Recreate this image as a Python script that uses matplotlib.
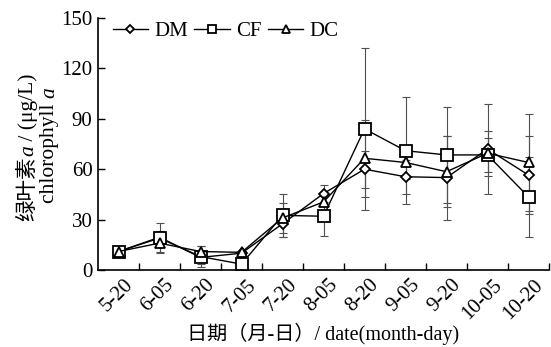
import numpy as np
import matplotlib
matplotlib.use('Agg')
import matplotlib.pyplot as plt
import matplotlib.transforms as mtransforms
from matplotlib.ticker import FixedLocator

SERIF = 'Liberation Serif'
CJK = 'Noto Sans CJK SC'
plt.rcParams['font.family'] = [SERIF, CJK]

# data
dates = ['5-20', '6-05', '6-20', '7-05', '7-20', '8-05', '8-20', '9-05', '9-20', '10-05', '10-20']
dm = [11, 19.5, 7.5, 10, 27.5, 45.5, 60, 55.5, 55, 72, 56.5]
cf = [11, 19, 8, 3.5, 32.5, 32, 84, 71, 68.5, 68.5, 43.5]
dc = [11, 16, 11, 10.5, 31, 40.5, 66.5, 64, 58.5, 69.5, 64]
dm_err = [1, 4, 4, 1.5, 8, 5, 11, 10, 25, 27, 23]
cf_err = [1, 9, 6, 2, 13, 12, 48, 32, 28.5, 10, 24]
dc_err = [1, 5, 3, 1, 9, 5, 23, 10, 21, 13.5, 29]

W, H = 551, 347
fig = plt.figure(figsize=(W / 100, H / 100), dpi=100)
ax = fig.add_axes([98 / W, 1 - 270 / H, 451 / W, 252 / H])

x = np.arange(len(dates))
series = [('DM', dm, dm_err, 'D', 5.5),
          ('CF', cf, cf_err, 's', 8),
          ('DC', dc, dc_err, '^', 7.5)]

for name, vals, err, mk, ms in series:
    ax.errorbar(x, vals, yerr=err, fmt='none', ecolor='#505050',
                elinewidth=0.8, capsize=3, capthick=0.8, zorder=1)
for name, vals, err, mk, ms in series:
    ax.plot(x, vals, color='black', lw=1, marker=mk, ms=ms, mfc='white',
            mec='black', mew=1.3, zorder=3, label=name)

ax.set_xlim(-0.5, len(dates) - 0.5)
ax.set_ylim(0, 150)
ax.set_yticks(np.arange(0, 151, 30))
ax.set_xticks(x)
ax.set_xticklabels(dates, rotation=45, ha='right', va='top', rotation_mode='anchor')
ax.xaxis.set_minor_locator(FixedLocator(np.arange(0.5, len(dates), 1)))
ax.tick_params(axis='x', which='major', length=0, labelsize=15, pad=4)
ax.tick_params(axis='x', which='minor', direction='in', length=5, width=1)
ax.tick_params(axis='y', direction='in', length=5, width=1, labelsize=15, pad=4)
shift = mtransforms.ScaledTranslation(5 / 100, 0, fig.dpi_scale_trans)
for lab in ax.get_xticklabels():
    lab.set_transform(lab.get_transform() + shift)
for s in ['top', 'right']:
    ax.spines[s].set_visible(False)
for s in ['left', 'bottom']:
    ax.spines[s].set_linewidth(1.2)

ax.legend(loc='upper left', ncol=3, frameon=False, fontsize=15,
          handlelength=1.7, handletextpad=0.3, columnspacing=0.3,
          markerscale=0.8, bbox_to_anchor=(0.005, 1.035), borderaxespad=0.2)

fig.text((98 + 451 / 2) / W, 1 - 334 / H, '日期（月-日）/ date(month-day)',
         ha='center', va='center', fontsize=14.5)

# y label built from pieces so the italic "a" and CJK glyphs mix
fig.canvas.draw()
r = fig.canvas.get_renderer()


def vlabel(xpix, ycpix, parts):
    texts = []
    for s, kw in parts:
        t = fig.text(xpix / W, 0, s, rotation=90, rotation_mode='anchor',
                     ha='left', va='baseline', fontsize=15.5, **kw)
        texts.append(t)
    hs = [t.get_window_extent(r).height for t in texts]
    y = (H - ycpix) - sum(hs) / 2
    for t, h in zip(texts, hs):
        t.set_position((xpix / W, y / H))
        y += h


vlabel(33, 147, [('绿叶素', {'family': [CJK]}),
                 ('a', {'family': [SERIF], 'style': 'italic'}),
                 (' / (μg/L)', {'family': [SERIF]})])
vlabel(54, 145, [('chlorophyll ', {'family': [SERIF]}),
                 ('a', {'family': [SERIF], 'style': 'italic'})])

fig.savefig('out.png', dpi=100)
